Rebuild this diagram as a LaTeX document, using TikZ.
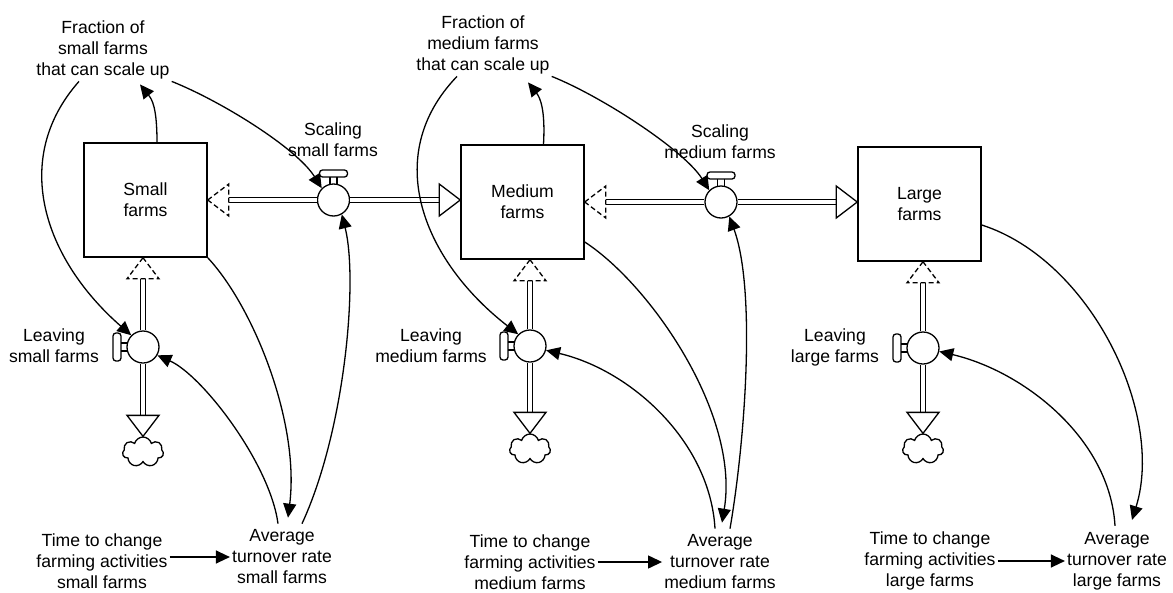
\documentclass[tikz,border=0pt]{standalone}
\usepackage{fontspec}
\setmainfont{Liberation Sans}
\usetikzlibrary{arrows.meta,shapes.symbols,calc}

\begin{document}
\begin{tikzpicture}[x=1pt,y=-1pt,
  font=\fontsize{17.6pt}{21pt}\selectfont,
  stock/.style={draw,line width=1.5pt,minimum width=123pt,minimum height=114pt,align=center,inner sep=0pt},
  valve/.style={draw,circle,line width=1.3pt,minimum size=32pt,inner sep=0pt,fill=white},
  lbl/.style={align=center,inner sep=2pt},
  link/.style={line width=1.3pt,-{Triangle[length=14pt,width=13pt]}},
  pipe/.style={line width=1.4pt,double=white,double distance=4pt,shorten >=12pt},
  inhead/.style={line width=1.3pt,fill=white,line join=miter},
  outhead/.style={line width=1.3pt,fill=white,dash pattern=on 5pt off 3pt},
  handle/.style={line width=1.3pt,fill=white,rounded corners=3pt},
  stem/.style={line width=1.3pt},
  sink/.style={draw,cloud,cloud puffs=7,aspect=1.4,line width=1.3pt,minimum width=41pt,minimum height=30pt,inner sep=0pt}
]
\useasboundingbox (0,0) rectangle (1173,592);

% stocks
\node[stock] (S) at (145.5,200) {Small\\farms};
\node[stock] (M) at (522.5,202) {Medium\\farms};
\node[stock] (L) at (919.5,204) {Large\\farms};

% flow valves and sinks
\node[valve] (scS) at (333.5,200) {};
\node[valve] (scM) at (721,202) {};
\node[valve] (lvS) at (143,347) {};
\node[valve] (lvM) at (530,346) {};
\node[valve] (lvL) at (923,348) {};
\node[sink] (clS) at (143,452) {};
\node[sink] (clM) at (530,449) {};
\node[sink] (clL) at (923,449) {};

% labels and auxiliaries
\node[lbl] (frS) at (103,50) {Fraction of\\small farms\\that can scale up};
\node[lbl] (frM) at (483,45) {Fraction of\\medium farms\\that can scale up};
\node[lbl] (scSl) at (333,140) {Scaling\\small farms};
\node[lbl] (scMl) at (720,142) {Scaling\\medium farms};
\node[lbl] (lvSl) at (54,346) {Leaving\\small farms};
\node[lbl] (lvMl) at (431,346) {Leaving\\medium farms};
\node[lbl] (lvLl) at (835,347) {Leaving\\large farms};
\node[lbl] (tmS) at (102,561) {Time to change\\farming activities\\small farms};
\node[lbl] (avS) at (282,557) {Average\\turnover rate\\small farms};
\node[lbl] (tmM) at (530,562) {Time to change\\farming activities\\medium farms};
\node[lbl] (avM) at (720,562) {Average\\turnover rate\\medium farms};
\node[lbl] (tmL) at (930,561) {Time to change\\farming activities\\large farms};
\node[lbl] (avL) at (1117,561) {Average\\turnover rate\\large farms};

% horizontal pipes
\draw[pipe] (scS.west) -- (scS.west -| S.east);
\draw[pipe] (scS.east) -- (scS.east -| M.west);
\draw[pipe] (scM.west) -- (scM.west -| M.east);
\draw[pipe] (scM.east) -- (scM.east -| L.west);
\draw[outhead] (scS.west -| S.east) -- ++(21,-16) -- ++(0,32) -- cycle;
\draw[inhead] (scS.east -| M.west) -- ++(-21,-16) -- ++(0,32) -- cycle;
\draw[outhead] (scM.west -| M.east) -- ++(21,-16) -- ++(0,32) -- cycle;
\draw[inhead] (scM.east -| L.west) -- ++(-21,-16) -- ++(0,32) -- cycle;

% vertical pipes
\foreach \v/\s/\c in {lvS/S/clS,lvM/M/clM,lvL/L/clL}{
  \draw[pipe] (\v.north) -- (\v.north |- \s.south);
  \draw[pipe] (\v.south) -- (\v.south |- \c.north);
  \draw[outhead] (\v.north |- \s.south) -- ++(-16,21) -- ++(32,0) -- cycle;
  \draw[inhead] (\v.south |- \c.north) -- ++(-16,-21) -- ++(32,0) -- cycle;
  \draw[handle] ($(\v)+(-30,-14)$) rectangle ($(\v)+(-22,14)$);
  \draw[stem] ($(\v)+(-22,-4)$) -- ($(\v)+(-15.5,-4)$)
              ($(\v)+(-22,4)$) -- ($(\v)+(-15.5,4)$);
}
\foreach \v in {scS,scM}{
  \draw[handle] ($(\v)+(-14,-30)$) rectangle ($(\v)+(14,-23)$);
  \draw[stem] ($(\v)+(-3.5,-23)$) -- ($(\v)+(-3.5,-15.6)$)
              ($(\v)+(3.5,-23)$) -- ($(\v)+(3.5,-15.6)$);
}

% information links, small farms
\draw[link] ([xshift=11.5pt]S.north) .. controls +(0,-35) and +(12,15) .. ([xshift=37pt,yshift=-3pt]frS.south);
\draw[link] (frS.south east) .. controls +(50,20) and +(-25,-40) .. (scS.135);
\draw[link] ([xshift=-24pt]frS.south) .. controls +(-69,78) and +(-87,-76) .. (lvS.135);
\draw[link] (S.south east) .. controls +(45,48) and +(12,-96) .. ([xshift=6pt,yshift=10pt]avS.north);
\draw[link] ([xshift=-4pt,yshift=4pt]avS.north) .. controls +(-8,-60) and +(45,20) .. (lvS.-30);
\draw[link] ([xshift=20pt,yshift=4pt]avS.north) .. controls +(43,-93) and +(16.5,66) .. (scS.-60);
\draw[link] (tmS.east |- avS.west) -- (avS.west);

% information links, medium farms
\draw[link] ([xshift=21pt]M.north) .. controls +(2,-35) and +(12,15) .. ([xshift=45pt,yshift=-6pt]frM.south);
\draw[link] (frM.south east) .. controls +(50,20) and +(-25,-40) .. (scM.135);
\draw[link] ([xshift=-26pt]frM.south) .. controls +(-77,80) and +(-94,-73) .. (lvM.135);
\draw[link] ([yshift=-40pt]M.east) .. controls +(66,43) and +(18,-108) .. ([xshift=2pt,yshift=10pt]avM.north);
\draw[link] ([xshift=-5pt,yshift=4pt]avM.north) .. controls +(-5,-87) and +(85,20) .. (lvM.-15);
\draw[link] ([xshift=10pt,yshift=4pt]avM.north) .. controls +(15,-87) and +(27,74) .. (scM.-60);
\draw[link] (tmM.east |- avM.west) -- (avM.west);

% information links, large farms
\draw[link] ([yshift=-21pt]L.east) .. controls +(109,35) and +(33,-106) .. ([xshift=15pt,yshift=10pt]avL.north);
\draw[link] ([xshift=-2pt,yshift=4pt]avL.north) .. controls +(-5,-87) and +(85,20) .. (lvL.-12);
\draw[link] (tmL.east |- avL.west) -- (avL.west);
\end{tikzpicture}
\end{document}
